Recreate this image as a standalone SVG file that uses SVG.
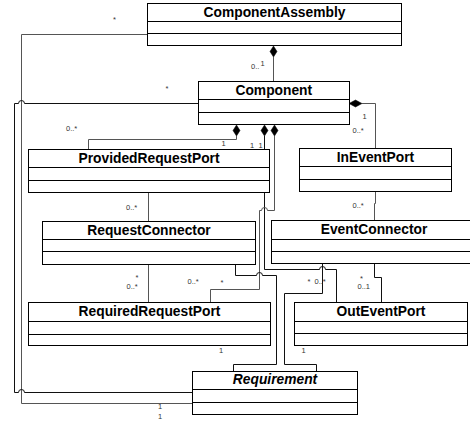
<svg xmlns="http://www.w3.org/2000/svg" width="470" height="423" viewBox="0 0 470 423">
<style>
.box{fill:#fff;stroke:#000;stroke-width:1}
.div{stroke:#000;stroke-width:1}
.title{font-family:"Liberation Sans",Arial,sans-serif;font-size:13.8px;font-weight:bold;text-anchor:middle;fill:#000}
.it{font-style:italic}
.c{fill:none;stroke:#555;stroke-width:1}
.k{fill:none;stroke:#111;stroke-width:1}
.dia{fill:#000;stroke:#000;stroke-width:0.5}
.lbl{font-family:"Liberation Sans",Arial,sans-serif;font-size:7.5px;fill:#333}
</style>
<rect width="470" height="423" fill="#fff"/>
<g id="connectors">
<path class="c" d="M273.5 57V81"/>
<path class="c" d="M362 103.5H375.5V148"/>
<path class="c" d="M236.5 136V139.5H88.5V149"/>
<path class="k" d="M264.5 136V269.5H319.5A3 3 0 0 1 325.5 269.5H336.5V302"/>
<path class="c" d="M274.5 136V210.5H267.5A3 3 0 0 0 261.5 210.5H259.5V289.5H210.5V302"/>
<path class="c" d="M148.5 192.5V221"/>
<path class="c" d="M148.5 264.5V302"/>
<path class="k" d="M235.5 264.5V275.5H256.5A3 3 0 0 1 262.5 275.5H276.5V364.5H233.5V371"/>
<path class="c" d="M375.5 191.5V203.5H374.5V220"/>
<path class="k" d="M374.5 263.5V277.5H381.5V302"/>
<path class="k" d="M322.5 263.5V293.5H284.5V364.5H316.5V371"/>
<path class="c" d="M147 34.5H21.5V403.5H192"/>
<path class="k" d="M198 103.5H24.5A3 3 0 0 0 18.5 103.5H14.5V392.5H18.5A3 3 0 0 1 24.5 392.5H192"/>
<polygon class="dia" points="273.5,46 277,51.5 273.5,57 270,51.5"/>
<polygon class="dia" points="349,103.5 355.5,100 362,103.5 355.5,107"/>
<polygon class="dia" points="236.5,125 240,130.5 236.5,136 233,130.5"/>
<polygon class="dia" points="264.5,125 268,130.5 264.5,136 261,130.5"/>
<polygon class="dia" points="274.5,125 278,130.5 274.5,136 271,130.5"/>
<text class="lbl" x="113" y="22">*</text>
<text class="lbl" x="251" y="68.5">0..</text>
<text class="lbl" x="260.5" y="66">1</text>
<text class="lbl" x="165.5" y="90.5">*</text>
<text class="lbl" x="66" y="131">0..*</text>
<text class="lbl" x="221.5" y="146">1</text>
<text class="lbl" x="250" y="148">1</text>
<text class="lbl" x="258.5" y="148">1</text>
<text class="lbl" x="362.5" y="118.5">1</text>
<text class="lbl" x="352.5" y="133">0..*</text>
<text class="lbl" x="126" y="210">0..*</text>
<text class="lbl" x="352.5" y="208">0..*</text>
<text class="lbl" x="135.5" y="280">*</text>
<text class="lbl" x="126.5" y="289">0..*</text>
<text class="lbl" x="187.5" y="283.5">0..*</text>
<text class="lbl" x="220.5" y="284.5">*</text>
<text class="lbl" x="307.5" y="284">*</text>
<text class="lbl" x="314.5" y="283.5">0..*</text>
<text class="lbl" x="360" y="281">*</text>
<text class="lbl" x="357.5" y="289">0..1</text>
<text class="lbl" x="219" y="352.7">1</text>
<text class="lbl" x="301.5" y="352.7">1</text>
<text class="lbl" x="158" y="409">1</text>
<text class="lbl" x="158" y="419">1</text>
</g>
<g id="ComponentAssembly">
<rect class="box" x="147.5" y="3.5" width="254" height="42"/>
<path class="div" d="M147.5 21.5H401.5M147.5 33.5H401.5"/>
<text class="title" x="274.5" y="17">ComponentAssembly</text>
</g>
<g id="Component">
<rect class="box" x="198.5" y="81.5" width="151" height="43"/>
<path class="div" d="M198.5 99.5H349.5M198.5 112.5H349.5"/>
<text class="title" x="273.8" y="95">Component</text>
</g>
<g id="ProvidedRequestPort">
<rect class="box" x="28.5" y="149.5" width="241" height="43"/>
<path class="div" d="M28.5 167.5H269.5M28.5 180.5H269.5"/>
<text class="title" x="149" y="163">ProvidedRequestPort</text>
</g>
<g id="InEventPort">
<rect class="box" x="299.5" y="148.5" width="152" height="43"/>
<path class="div" d="M299.5 166.5H451.5M299.5 179.5H451.5"/>
<text class="title" x="375.5" y="162">InEventPort</text>
</g>
<g id="RequestConnector">
<rect class="box" x="42.5" y="221.5" width="213" height="43"/>
<path class="div" d="M42.5 239.5H255.5M42.5 251.5H255.5"/>
<text class="title" x="149" y="234.5">RequestConnector</text>
</g>
<g id="EventConnector">
<rect class="box" x="271.5" y="220.5" width="206" height="43"/>
<path class="div" d="M271.5 239.5H477.5M271.5 251.5H477.5"/>
<text class="title" x="374" y="233.5">EventConnector</text>
</g>
<g id="RequiredRequestPort">
<rect class="box" x="28.5" y="302.5" width="242" height="43"/>
<path class="div" d="M28.5 321.5H270.5M28.5 334.5H270.5"/>
<text class="title" x="149.5" y="316">RequiredRequestPort</text>
</g>
<g id="OutEventPort">
<rect class="box" x="294.5" y="302.5" width="173" height="43"/>
<path class="div" d="M294.5 321.5H467.5M294.5 333.5H467.5"/>
<text class="title" x="381" y="316">OutEventPort</text>
</g>
<g id="Requirement">
<rect class="box" x="192.5" y="371.5" width="165" height="43"/>
<path class="div" d="M192.5 389.5H357.5M192.5 402.5H357.5"/>
<text class="title it" x="275" y="384">Requirement</text>
</g>
</svg>
